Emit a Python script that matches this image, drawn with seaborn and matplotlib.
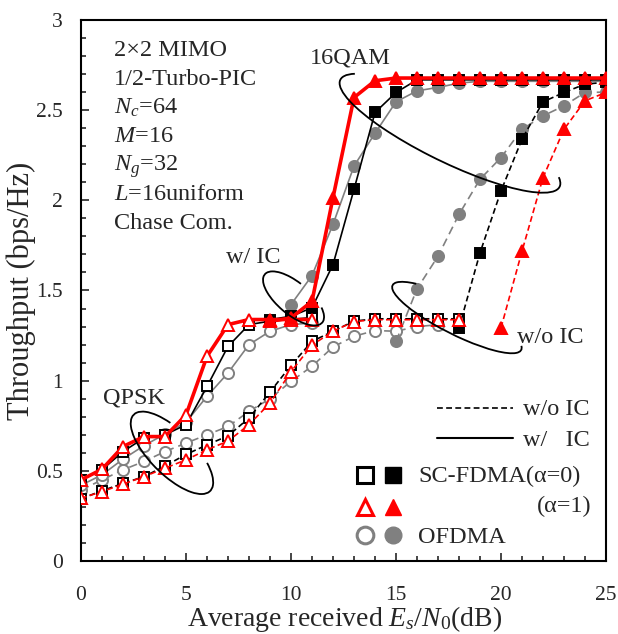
"""Throughput vs Es/N0 for SC-FDMA / OFDMA with Turbo-PIC (QPSK and 16QAM)."""

import matplotlib

matplotlib.use("Agg")
import matplotlib.pyplot as plt
import seaborn as sns
from matplotlib.patches import Arc
from matplotlib.ticker import FuncFormatter, MultipleLocator
from matplotlib.transforms import ScaledTranslation

# ---- data -------------------------------------------------------------
# QPSK, with IC (solid, open markers)
snr_qpsk_ic = list(range(0, 12))
sc0_qpsk_ic = [0.45, 0.506, 0.607, 0.682, 0.70, 0.756, 0.968, 1.19, 1.311, 1.33, 1.34, 1.35]
sc1_qpsk_ic = [0.45, 0.509, 0.635, 0.69, 0.69, 0.81, 1.135, 1.311, 1.339, 1.339, 1.339, 1.339]
ofd_qpsk_ic = [0.42, 0.478, 0.565, 0.64, 0.704, 0.77, 0.913, 1.043, 1.20, 1.274, 1.311, 1.32]

# QPSK, without IC (dashed, open markers)
snr_qpsk_noic = list(range(0, 19))
sc0_qpsk_noic = [0.345, 0.39, 0.43, 0.468, 0.527, 0.591, 0.644, 0.694, 0.793, 0.937,
                 1.085, 1.218, 1.274, 1.33, 1.343, 1.343, 1.343, 1.343, 1.343]
sc1_qpsk_noic = [0.348, 0.385, 0.426, 0.468, 0.515, 0.561, 0.617, 0.665, 0.756, 0.876,
                 1.05, 1.197, 1.274, 1.328, 1.338, 1.338, 1.338, 1.338, 1.338]
snr_ofd_qpsk_noic = list(range(0, 18))
ofd_qpsk_noic = [0.394, 0.45, 0.506, 0.552, 0.607, 0.654, 0.70, 0.746, 0.83, 0.90,
                 0.996, 1.08, 1.187, 1.246, 1.278, 1.274, 1.30, 1.31]

# 16QAM, with IC (solid, filled markers)
snr_sc_16_ic = list(range(9, 26))
sc0_16_ic = [1.339, 1.357, 1.404, 1.644, 2.061, 2.487, 2.598, 2.668, 2.668, 2.668,
             2.668, 2.668, 2.668, 2.668, 2.668, 2.668, 2.668]
sc1_16_ic = [1.329, 1.348, 1.44, 2.015, 2.57, 2.663, 2.678, 2.678, 2.678, 2.678,
             2.678, 2.678, 2.678, 2.678, 2.678, 2.678, 2.678]
snr_ofd_16_ic = list(range(10, 26))
ofd_16_ic = [1.422, 1.583, 1.867, 2.19, 2.372, 2.546, 2.607, 2.626, 2.65, 2.66,
             2.66, 2.66, 2.66, 2.66, 2.66, 2.66]

# 16QAM, without IC (dashed, filled markers)
snr_ofd_16_noic = list(range(15, 26))
ofd_16_noic = [1.218, 1.509, 1.69, 1.922, 2.117, 2.237, 2.394, 2.468, 2.524, 2.598, 2.60]
snr_sc0_16_noic = list(range(18, 26))
sc0_16_noic = [1.293, 1.709, 2.052, 2.339, 2.546, 2.598, 2.644, 2.655]
snr_sc1_16_noic = list(range(20, 26))
sc1_16_noic = [1.293, 1.718, 2.126, 2.394, 2.552, 2.598]

params_text = ["2×2 MIMO", "1/2-Turbo-PIC", "$N_c$=64", "$M$=16",
               "$N_g$=32", "$L$=16uniform", "Chase Com."]

RED = "#ff0000"
GRAY = "#808080"
BLACK = "#000000"

sns.set_style("ticks")
plt.rcParams["font.family"] = ["Liberation Serif", "DejaVu Serif"]
plt.rcParams["mathtext.fontset"] = "custom"
plt.rcParams["mathtext.rm"] = "Liberation Serif"
plt.rcParams["mathtext.it"] = "Liberation Serif:italic"

fig = plt.figure(figsize=(6.18, 6.34), dpi=100)
ax = fig.add_axes([0.1311, 0.1151, 0.8495, 0.8534])


def draw(x, y, color, marker, filled, dashed, lw=1.2, ms=7.5, z=3, dash=(3.5, 2)):
    ls = (0, dash) if dashed else "-"
    sns.lineplot(x=x, y=y, ax=ax, color=color, linestyle=ls, linewidth=lw,
                 marker=marker, markersize=ms, errorbar=None,
                 markerfacecolor=color if filled else "white",
                 markeredgecolor=color, markeredgewidth=1.4, zorder=z)


# gray (OFDMA) underneath
draw(snr_ofd_qpsk_noic, ofd_qpsk_noic, GRAY, "o", False, True, ms=8, z=2, dash=(5, 3))
draw(snr_ofd_16_noic, ofd_16_noic, GRAY, "o", True, True, ms=8, z=2, dash=(5, 3))
draw(snr_qpsk_ic, ofd_qpsk_ic, GRAY, "o", False, False, ms=8, z=2)
draw(snr_ofd_16_ic, ofd_16_ic, GRAY, "o", True, False, ms=8, z=2)

# black (SC-FDMA alpha=0)
draw(snr_qpsk_noic, sc0_qpsk_noic, BLACK, "s", False, True, z=3)
draw(snr_sc0_16_noic, sc0_16_noic, BLACK, "s", True, True, z=3)
draw(snr_qpsk_ic, sc0_qpsk_ic, BLACK, "s", False, False, z=3)
draw(snr_sc_16_ic, sc0_16_ic, BLACK, "s", True, False, z=3)

# red (SC-FDMA alpha=1) on top
draw(snr_qpsk_noic, sc1_qpsk_noic, RED, "^", False, True, ms=8.5, z=4)
draw(snr_sc1_16_noic, sc1_16_noic, RED, "^", True, True, ms=8.5, z=4)
draw(snr_qpsk_ic, sc1_qpsk_ic, RED, "^", False, False, lw=2.6, ms=8.5, z=4)
draw(snr_sc_16_ic, sc1_16_ic, RED, "^", True, False, lw=2.6, ms=8.5, z=4)


def ring(cx, cy, w_px, h_px, angle, t1, t2):
    tr = fig.dpi_scale_trans + ScaledTranslation(cx, cy, ax.transData)
    ax.add_patch(Arc((0, 0), w_px / fig.dpi, h_px / fig.dpi, angle=angle,
                     theta1=t1, theta2=t2, transform=tr, color="black",
                     lw=1.3, zorder=6))


ring(4.33, 0.60, 108, 44, -45, 138, 29)      # QPSK
ring(10.12, 1.456, 75, 32, -40, 103, 22)     # w/ IC
ring(17.57, 2.372, 244, 58, -26, 174, 4)     # 16QAM
ring(17.9, 1.35, 144, 34, -26.7, 167, 3)     # w/o IC

# ---- annotations ------------------------------------------------------
TXT = 17.5
for i, line in enumerate(params_text):
    ax.text(1.57, 2.802 - 0.16 * i, line, fontsize=TXT, ha="left", va="baseline")
ax.text(1.05, 0.876, "QPSK", fontsize=TXT, ha="left", va="baseline")
ax.text(6.9, 1.654, "w/ IC", fontsize=TXT, ha="left", va="baseline")
ax.text(10.9, 2.761, "16QAM", fontsize=TXT, ha="left", va="baseline")
ax.text(20.76, 1.209, "w/o IC", fontsize=TXT, ha="left", va="baseline")

# hand-made legend (axes fraction)
ta = ax.transAxes
ax.plot([0.678, 0.823], [0.283, 0.283], transform=ta, color=BLACK, lw=1.2,
        linestyle=(0, (3.5, 2)))
ax.plot([0.678, 0.823], [0.227, 0.227], transform=ta, color=BLACK, lw=1.5)
ax.text(0.842, 0.27, "w/o IC", transform=ta, fontsize=TXT, va="baseline")
ax.text(0.842, 0.2126, "w/   IC", transform=ta, fontsize=TXT, va="baseline")

key_rows = [("s", BLACK, 0.159), ("^", RED, 0.100), ("o", GRAY, 0.048)]
for mk, col, yy in key_rows:
    ax.plot([0.541], [yy], transform=ta, marker=mk, ms=12, mfc="white", mec=col,
            mew=2.2, linestyle="none", clip_on=False)
    ax.plot([0.594], [yy], transform=ta, marker=mk, ms=12, mfc=col, mec=col,
            linestyle="none", clip_on=False)
ax.text(0.642, 0.1466, "SC-FDMA(α=0)", transform=ta, fontsize=TXT, va="baseline")
ax.text(0.973, 0.091, "(α=1)", transform=ta, fontsize=TXT, va="baseline", ha="right")
ax.text(0.642, 0.034, "OFDMA", transform=ta, fontsize=TXT, va="baseline")

# ---- axes -------------------------------------------------------------
ax.set_xlim(0, 25)
ax.set_ylim(0, 3)
ax.xaxis.set_major_locator(MultipleLocator(5))
ax.xaxis.set_minor_locator(MultipleLocator(1))
ax.yaxis.set_major_locator(MultipleLocator(0.5))
ax.yaxis.set_minor_locator(MultipleLocator(0.1))
ax.yaxis.set_major_formatter(FuncFormatter(lambda v, _: f"{v:g}"))
ax.tick_params(which="both", direction="in", top=False, right=False, width=1.2)
ax.tick_params(which="major", length=6, labelsize=15.5)
ax.tick_params(which="minor", length=3.5)
ax.tick_params(axis="x", which="major", pad=18)
ax.tick_params(axis="y", which="major", pad=13)
for sp in ax.spines.values():
    sp.set_linewidth(1.5)
    sp.set_color("black")

ax.set_xlabel(r"Average received $E_s/N_0$(dB)", fontsize=20)
ax.set_ylabel("Throughput (bps/Hz)", fontsize=22)
ax.xaxis.set_label_coords(0.503, -0.079)
ax.yaxis.set_label_coords(-0.085, 0.5)

fig.savefig("out.png", dpi=100)
plt.close(fig)
